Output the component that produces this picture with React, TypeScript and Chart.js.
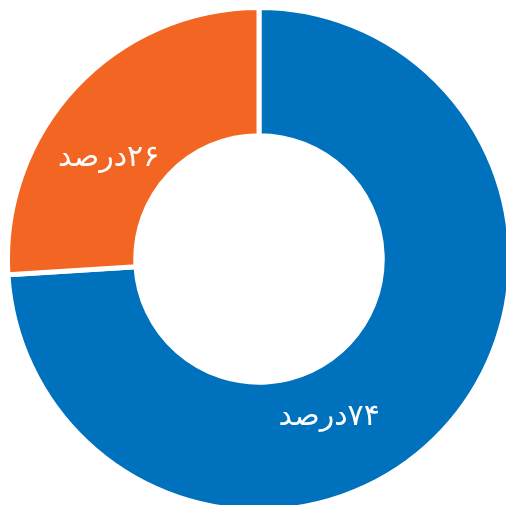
import React, { useEffect, useRef } from "react";
import { Chart, registerables } from "chart.js";

Chart.register(...registerables);

const categories = ["۷۴درصد", "۲۶درصد"];
const values = [74, 26];
const colors = ["#0071BC", "#F26522"];
// label placement along each arc: fraction of the slice's angle, fraction of ring thickness
const labelAngleFrac = [0.586, 0.4];
const labelRadiusFrac = [0.39, 0.45];

const labelPlugin = {
  id: "sliceLabels",
  afterDatasetsDraw(chart: any) {
    const { ctx } = chart;
    const meta = chart.getDatasetMeta(0);
    ctx.save();
    ctx.fillStyle = "#ffffff";
    ctx.font = "30px 'DejaVu Sans'";
    ctx.textAlign = "center";
    ctx.textBaseline = "middle";
    (ctx as any).direction = "rtl";
    meta.data.forEach((arc: any, i: number) => {
      const p = arc.getProps(["x", "y", "startAngle", "endAngle", "innerRadius", "outerRadius"], true);
      const a = p.startAngle + (p.endAngle - p.startAngle) * labelAngleFrac[i];
      const r = p.innerRadius + (p.outerRadius - p.innerRadius) * labelRadiusFrac[i];
      ctx.fillText(categories[i], p.x + Math.cos(a) * r, p.y + Math.sin(a) * r);
    });
    ctx.restore();
  },
};

export default function App() {
  const ref = useRef<HTMLCanvasElement>(null);
  useEffect(() => {
    document.documentElement.style.overflow = "hidden";
    const chart = new Chart(ref.current!, {
      type: "doughnut",
      data: {
        labels: categories,
        datasets: [
          {
            data: values,
            backgroundColor: colors,
            borderColor: "#ffffff",
            borderWidth: 5,
          },
        ],
      },
      options: {
        responsive: false,
        animation: false,
        cutout: "49%",
        layout: { padding: 0 },
        plugins: {
          legend: { display: false },
          tooltip: { enabled: false },
        },
      },
      plugins: [labelPlugin],
    });
    return () => chart.destroy();
  }, []);
  return (
    <div style={{ position: "fixed", left: 0, top: 0, width: 506, height: 505, overflow: "hidden", background: "#fff" }}>
      <canvas ref={ref} width={508} height={508} style={{ position: "absolute", left: 5, top: 5, width: 508, height: 508 }} />
    </div>
  );
}
